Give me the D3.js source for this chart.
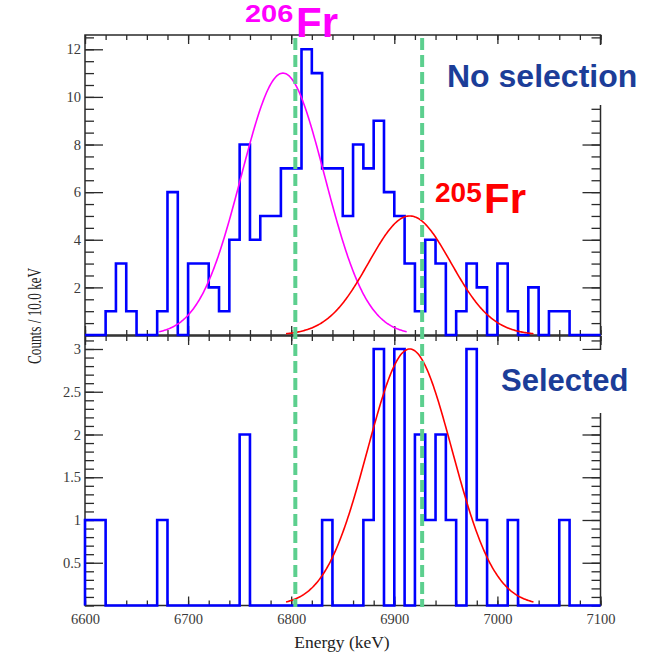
<!DOCTYPE html>
<html><head><meta charset="utf-8">
<script src="https://cdn.jsdelivr.net/npm/d3@7"></script>
<style>body{margin:0;background:#fff}svg{display:block}</style>
</head><body><svg id="c" width="659" height="655"></svg>
<script>
// ---------- data ----------
const binLow = [6600,6610,6620,6630,6640,6650,6660,6670,6680,6690,6700,6710,6720,6730,6740,6750,6760,6770,6780,6790,6800,6810,6820,6830,6840,6850,6860,6870,6880,6890,6900,6910,6920,6930,6940,6950,6960,6970,6980,6990,7000,7010,7020,7030,7040,7050,7060,7070,7080,7090];
const binWidth = 10;
const countsNoSel = [0,0,1,3,1,0,0,1,6,0,3,3,2,1,4,8,4,5,5,7,7,12,11,7,7,5,8,7,9,6,5,3,1,4,3,0,1,3,2,0,3,1,0,2,0,1,1,0,0,0];
const countsSel   = [1,1,0,0,0,0,0,1,0,0,0,0,0,0,0,2,0,0,0,0,0,0,0,1,0,0,0,1,3,0,3,0,2,1,2,1,0,3,1,0,0,1,0,0,0,0,1,0,0,0];
// gaussian fit parameters [amplitude, mean, sigma, from, to]
const fit206Top = [11, 6792, 40.5, 6672, 6912];
const fit205Top = [5, 6915, 40, 6795, 7035];
const fit205Sel = [3, 6915, 41, 6795, 7035];
const markerLines = [6804, 6927];
const xTicksMajor = [6600,6700,6800,6900,7000,7100];
const yTicksTop = [2,4,6,8,10,12];
const yTicksBot = [0.5,1,1.5,2,2.5,3];

// ---------- layout ----------
const svg = d3.select("#c");
const X0 = 85, X1 = 600.5;
const x = d3.scaleLinear().domain([6600,7100]).range([X0,X1]);
const yT = d3.scaleLinear().domain([0,12.6]).range([335,35]);
const yB = d3.scaleLinear().domain([0,3.152]).range([605.5,336]);

const serif = "'Liberation Serif','Times New Roman',serif";
const sans = "'Liberation Sans',Arial,sans-serif";

function histPath(counts, y){
  const pts = [[6600,0]];
  counts.forEach((c,i)=>{ pts.push([binLow[i],c]); pts.push([binLow[i]+binWidth,c]); });
  pts.push([7100,0]);
  return d3.line().x(d=>x(d[0])).y(d=>y(d[1]))(pts);
}
function gaussPath(p, y){
  const [A,m,s,a,b] = p;
  const pts = [];
  for(let e=a; e<=b+0.001; e+=1) pts.push([e, A*Math.exp(-0.5*((e-m)/s)**2)]);
  return d3.line().x(d=>x(d[0])).y(d=>y(d[1]))(pts);
}
function styleAxis(g){
  g.select(".domain").remove();
  g.selectAll(".tick line").attr("stroke","#2a2a2a").attr("stroke-width",1.3);
  g.selectAll(".tick text").attr("fill","#3a3a3a").style("font-family",serif).style("font-size","14.5px");
}
function panel(y, ticksMajor, minorStep, yMax, showX){
  const minor = d3.range(0, yMax+1e-9, minorStep).map(v=>+v.toFixed(3));
  const xMinor = d3.range(6600, 7101, 20);
  svg.append("g").attr("transform",`translate(${X0},0)`)
    .call(d3.axisLeft(y).tickValues(minor).tickSize(-9).tickFormat("")).call(styleAxis);
  svg.append("g").attr("transform",`translate(${X0},0)`)
    .call(d3.axisLeft(y).tickValues(ticksMajor).tickSize(-18).tickPadding(4).tickFormat(d=>d)).call(styleAxis);
  svg.append("g").attr("transform",`translate(${X1},0)`)
    .call(d3.axisRight(y).tickValues(minor).tickSize(-9).tickFormat("")).call(styleAxis);
  svg.append("g").attr("transform",`translate(${X1},0)`)
    .call(d3.axisRight(y).tickValues(ticksMajor).tickSize(-18).tickFormat("")).call(styleAxis);
  const [b,t] = y.range();
  svg.append("g").attr("transform",`translate(0,${t})`)
    .call(d3.axisTop(x).tickValues(xMinor).tickSize(-5).tickFormat("")).call(styleAxis);
  svg.append("g").attr("transform",`translate(0,${t})`)
    .call(d3.axisTop(x).tickValues(xTicksMajor).tickSize(-9).tickFormat("")).call(styleAxis);
  svg.append("g").attr("transform",`translate(0,${b})`)
    .call(d3.axisBottom(x).tickValues(xMinor).tickSize(-5).tickFormat("")).call(styleAxis);
  svg.append("g").attr("transform",`translate(0,${b})`)
    .call(d3.axisBottom(x).tickValues(xTicksMajor).tickSize(-9).tickPadding(8).tickFormat(showX? d=>d : "")).call(styleAxis);
  svg.append("rect").attr("x",X0).attr("y",t).attr("width",X1-X0).attr("height",b-t)
    .attr("fill","none").attr("stroke","#2a2a2a").attr("stroke-width",1.5);
}

panel(yT, yTicksTop, 0.5, 12.6, false);
panel(yB, yTicksBot, 0.1, 3.152, true);

svg.append("path").attr("d",histPath(countsNoSel,yT)).attr("fill","none").attr("stroke","#0000ff").attr("stroke-width",2.6);
svg.append("path").attr("d",histPath(countsSel,yB)).attr("fill","none").attr("stroke","#0000ff").attr("stroke-width",2.6);
svg.append("path").attr("d",gaussPath(fit206Top,yT)).attr("fill","none").attr("stroke","#ff00ff").attr("stroke-width",1.6);
svg.append("path").attr("d",gaussPath(fit205Top,yT)).attr("fill","none").attr("stroke","#ff0000").attr("stroke-width",1.6);
svg.append("path").attr("d",gaussPath(fit205Sel,yB)).attr("fill","none").attr("stroke","#ff0000").attr("stroke-width",1.6);

markerLines.forEach(e=>{
  svg.append("line").attr("x1",x(e)).attr("x2",x(e)).attr("y1",38).attr("y2",607)
    .attr("stroke","#5ccf8e").attr("stroke-width",4).attr("stroke-dasharray","12,5");
});

svg.append("rect").attr("x",440).attr("y",45).attr("width",210).attr("height",60).attr("fill","#fff");
svg.append("text").attr("x",447).attr("y",87).text("No selection")
  .attr("fill","#1c3d98").style("font-family",sans).style("font-weight","bold").style("font-size","32px");
svg.append("rect").attr("x",495).attr("y",350).attr("width",150).attr("height",63).attr("fill","#fff");
svg.append("text").attr("x",501).attr("y",391).text("Selected")
  .attr("fill","#1c3d98").style("font-family",sans).style("font-weight","bold").style("font-size","31px");

svg.append("text").attr("x",435).attr("y",202).text("205")
  .attr("fill","#ff0000").style("font-family",sans).style("font-weight","bold").style("font-size","28px");
svg.append("text").attr("x",484).attr("y",213).text("Fr")
  .attr("fill","#ff0000").style("font-family",sans).style("font-weight","bold").style("font-size","42px");

svg.append("text").attr("transform","translate(245,22) scale(1,0.8)").text("206")
  .attr("fill","#ff00ff").style("font-family",sans).style("font-weight","bold").style("font-size","29px");
svg.append("text").attr("x",296).attr("y",37).text("Fr")
  .attr("fill","#ff00ff").style("font-family",sans).style("font-weight","bold").style("font-size","42px");

svg.append("text").attr("transform","translate(41,316) rotate(-90)").attr("text-anchor","middle")
  .attr("textLength",96).attr("lengthAdjust","spacingAndGlyphs").text("Counts / 10.0 keV")
  .attr("fill","#222").style("font-family",serif).style("font-size","19px");
svg.append("text").attr("x",342).attr("y",648).attr("text-anchor","middle").text("Energy (keV)")
  .attr("fill","#222").style("font-family",serif).style("font-size","17.5px");
</script></body></html>
